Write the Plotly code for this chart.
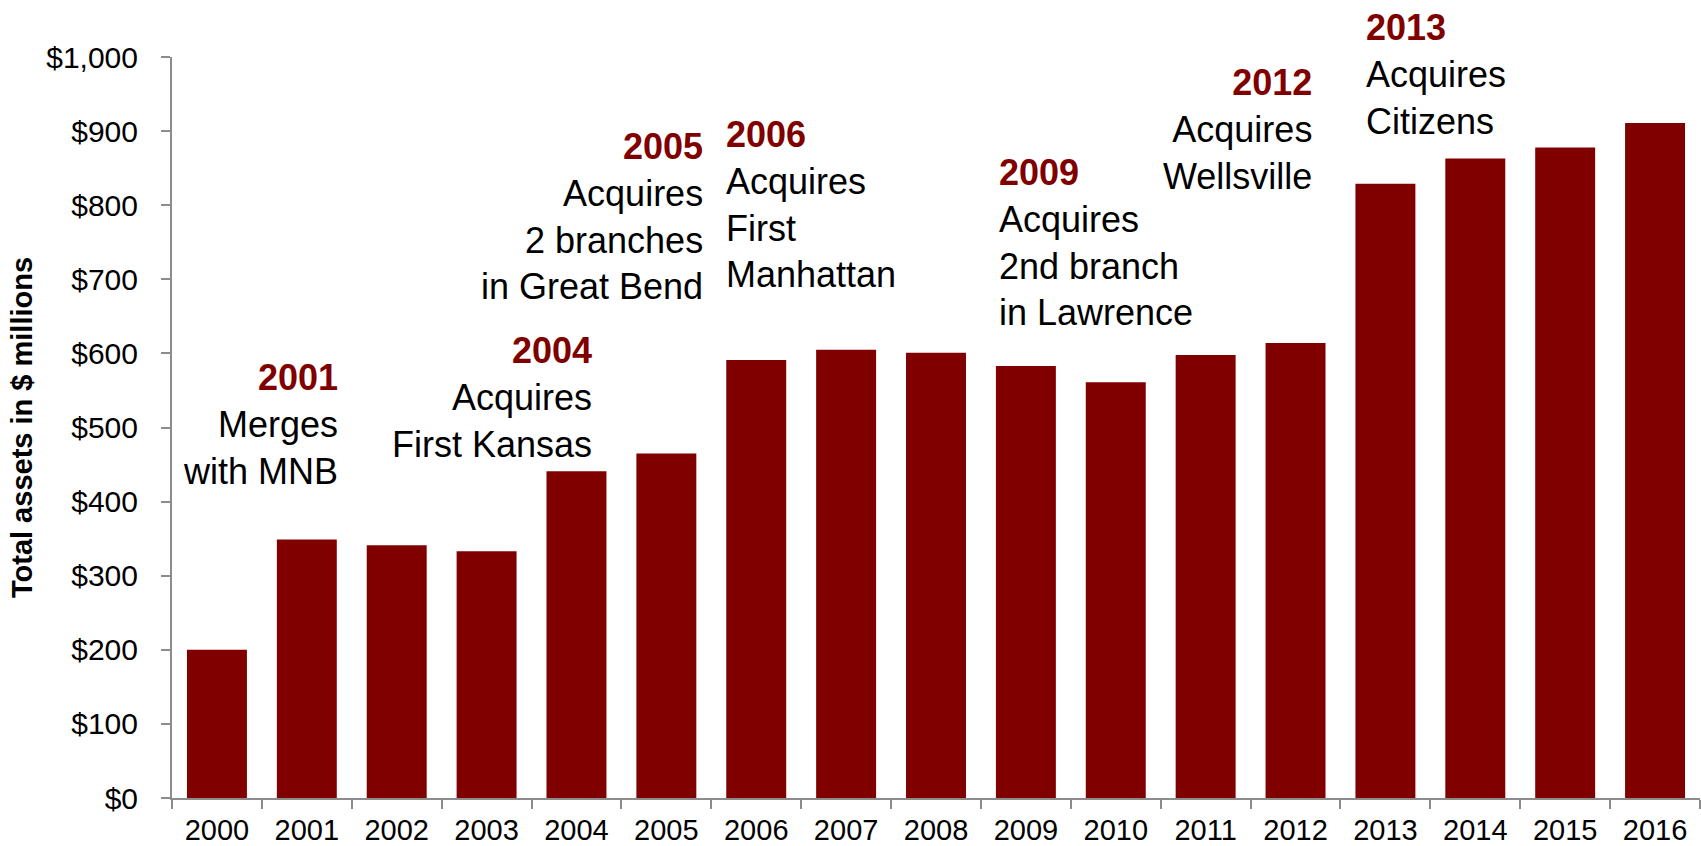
import plotly.graph_objects as go

years = ["2000", "2001", "2002", "2003", "2004", "2005", "2006", "2007", "2008",
         "2009", "2010", "2011", "2012", "2013", "2014", "2015", "2016"]
assets = [200, 349, 341, 333, 441, 465, 591, 605, 601, 583, 561, 598, 614, 829, 863, 878, 911]

event_years = ["2001", "2004", "2005", "2006", "2009", "2012", "2013"]
event_texts = [
    "Merges<br>with MNB",
    "Acquires<br>First Kansas",
    "Acquires<br>2 branches<br>in Great Bend",
    "Acquires<br>First<br>Manhattan",
    "Acquires<br>2nd branch<br>in Lawrence",
    "Acquires<br>Wellsville",
    "Acquires<br>Citizens",
]

# layout placement for each annotation: (paper y of box top, xanchor, xshift px)
placement = {
    "2001": (0.5976, "right", 33),
    "2004": (0.6347, "right", 18),
    "2005": (0.9102, "right", 39),
    "2006": (0.9261, "left", -32),
    "2009": (0.8751, "left", -29),
    "2012": (0.9953, "right", 18),
    "2013": (1.0702, "left", -21),
}

FONT = "Liberation Sans, Arial, Helvetica, sans-serif"
RED = "#800000"
AXIS = "#8c8c8c"

fig = go.Figure(go.Bar(x=years, y=assets, marker=dict(color=RED, line=dict(width=0))))

annotations = []
for yr, txt in zip(event_years, event_texts):
    yv, anchor, shift = placement[yr]
    annotations.append(dict(
        x=years.index(yr), y=yv, xref="x", yref="paper", xanchor=anchor, yanchor="top", xshift=shift,
        align=anchor, showarrow=False,
        text=f"<b><span style='color:{RED}'>{yr}</span></b><br>{txt}",
        font=dict(family=FONT, size=36, color="black"),
    ))

fig.update_layout(
    width=1701, height=846,
    margin=dict(l=172, r=1, t=57, b=48, autoexpand=False),
    paper_bgcolor="white", plot_bgcolor="white",
    bargap=0.333, showlegend=False,
    font=dict(family=FONT, color="black"),
    annotations=annotations,
)
fig.update_xaxes(
    type="category", range=[-0.5, len(years) - 0.5], showline=True, linecolor=AXIS, linewidth=2,
    ticks="outside", tickson="boundaries", ticklen=9, tickwidth=2, tickcolor=AXIS,
    tickfont=dict(family=FONT, size=29, color="black"), showgrid=False, tickangle=0,
    ticklabelstandoff=5,
)
fig.update_yaxes(
    range=[0, 1000], dtick=100, tickprefix="$", tickformat=",",
    showline=True, linecolor=AXIS, linewidth=2,
    ticks="outside", ticklen=9, tickwidth=2, tickcolor=AXIS,
    tickfont=dict(family=FONT, size=30, color="black"), showgrid=False, zeroline=False,
    ticklabelstandoff=17,
    title=dict(text="<b>Total assets in $ millions</b>", font=dict(family=FONT, size=29, color="black"), standoff=5),
)

fig.write_html("out.html")
